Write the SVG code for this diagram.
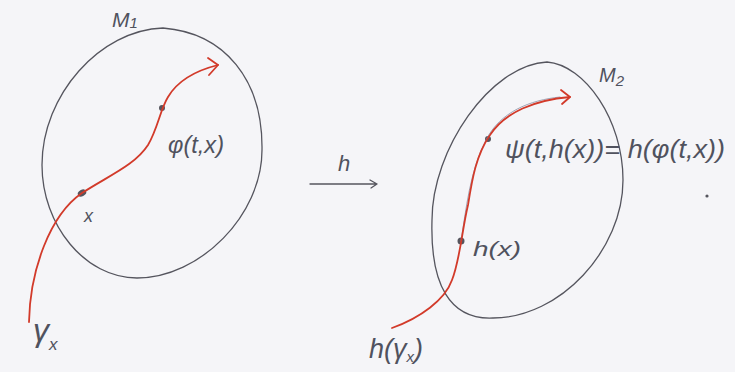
<svg xmlns="http://www.w3.org/2000/svg" width="735" height="372" viewBox="0 0 735 372">
<style>
.pen{fill:none;stroke:#55555e;stroke-width:1.3;stroke-linecap:round;stroke-linejoin:round}
.pen2{fill:none;stroke:#8a8fa6;stroke-width:0.8;stroke-linecap:round}
.red{fill:none;stroke:#d23a2a;stroke-width:1.8;stroke-linecap:round;stroke-linejoin:round}
.dot{fill:#55555e}
.t{font-family:"Liberation Sans","DejaVu Sans",sans-serif;font-style:italic;fill:#50525e}
</style>
<rect width="735" height="372" fill="#f5f5f8"/>

<g id="M1">
<path class="pen" d="M163,28 C225,33 263,80 262,150 C262,215 200,278 137,278 C85,278 42,225 42,165 C42,95 100,30 163,28 Z"/>
<text class="t" x="112" y="27" font-size="21">M<tspan font-size="15" dy="1">1</tspan></text>
</g>

<g id="M2">
<path class="pen" d="M547,62 C585,65 623,120 623,180 C623,250 560,318 493,318 C450,320 430,285 432,220 C432,150 490,65 547,62 Z"/>
<text class="t" x="599" y="82" font-size="20">M<tspan font-size="15" dy="4">2</tspan></text>
</g>

<g id="x-point">
<ellipse class="dot" cx="82" cy="193" rx="4.5" ry="3.2" transform="rotate(-30 82 193)"/>
<text class="t" x="84" y="222" font-size="18">x</text>
</g>

<g id="phi-point">
<circle class="dot" cx="162" cy="108" r="3"/>
<text class="t" x="168" y="153" font-size="24" textLength="56" lengthAdjust="spacingAndGlyphs">φ(t,x)</text>
</g>

<g id="gamma-label">
<text class="t" x="33" y="341" font-size="32">γ<tspan font-size="17" dy="9">x</tspan></text>
</g>

<g id="hx-point">
<circle class="dot" cx="461" cy="241" r="3.5"/>
<text class="t" x="473" y="256" font-size="20" textLength="48" lengthAdjust="spacingAndGlyphs">h(x)</text>
</g>

<g id="psi-point">
<circle class="dot" cx="488" cy="139" r="3"/>
<text class="t" x="505" y="158" font-size="26" textLength="220" lengthAdjust="spacingAndGlyphs">ψ(t,h(x))= h(φ(t,x))</text>
</g>

<g id="h-gamma-label">
<text class="t" x="369" y="358" font-size="27">h(γ<tspan font-size="15" dy="4">x</tspan><tspan dy="-4">)</tspan></text>
</g>

<g id="h-label">
<text class="t" x="338" y="171" font-size="22">h</text>
</g>

<g id="stray-dot">
<circle class="dot" cx="707" cy="196" r="1.6"/>
</g>

<g id="connectors">
<path class="red" d="M29,322 C30,270 50,215 82,193 C110,175 135,165 148,145 C158,128 160,110 168,97 C178,80 198,70 218,65"/>
<path class="red" d="M208,58 L218,65 L209,75"/>
<path class="pen2" d="M461,241 C466,210 470,170 486,140 C500,112 530,100 560,97"/>
<path class="red" d="M392,328 C420,318 445,300 452,280 C460,260 462,230 468,205 C472,180 476,155 490,135 C505,112 535,100 570,97"/>
<path class="red" d="M561,90 L570,97 L562,104"/>
<path class="pen" d="M310,184 L377,184 M370,180 L377,184 L371,188"/>
</g>
</svg>
